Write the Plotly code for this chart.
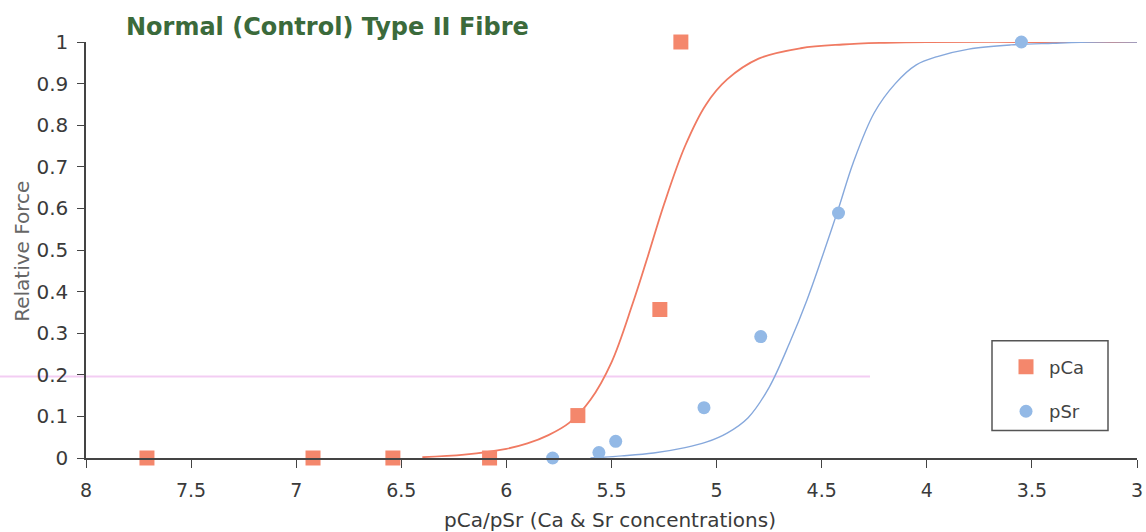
import plotly.graph_objects as go

# Measured data points
pca_x = [7.71, 6.92, 6.54, 6.08, 5.66, 5.27, 5.17]
pca_y = [0.0, 0.0, 0.0, 0.0, 0.102, 0.357, 1.0]
psr_x = [5.78, 5.56, 5.48, 5.06, 4.79, 4.42, 3.55]
psr_y = [0.0, 0.013, 0.04, 0.121, 0.292, 0.589, 1.0]

# Fitted curves
pca_fit_x = [6.40, 6.20, 6.00, 5.90, 5.80, 5.70, 5.60, 5.50, 5.40, 5.33, 5.25, 5.15,
             5.05, 4.95, 4.80, 4.60, 4.40, 4.20, 4.00, 3.50, 3.00]
pca_fit_y = [0.002, 0.008, 0.022, 0.035, 0.055, 0.085, 0.14, 0.23, 0.37, 0.48, 0.61, 0.75,
             0.85, 0.91, 0.96, 0.985, 0.994, 0.998, 1.0, 1.0, 1.0]
psr_fit_x = [5.60, 5.45, 5.30, 5.15, 5.05, 4.95, 4.85, 4.75, 4.65, 4.57, 4.50, 4.42,
             4.35, 4.25, 4.15, 4.05, 3.95, 3.80, 3.60, 3.40, 3.20, 3.00]
psr_fit_y = [0.0, 0.005, 0.012, 0.025, 0.038, 0.06, 0.097, 0.17, 0.28, 0.38, 0.48, 0.60,
             0.71, 0.83, 0.90, 0.945, 0.965, 0.983, 0.993, 0.997, 1.0, 1.0]

x_ticks = [8, 7.5, 7, 6.5, 6, 5.5, 5, 4.5, 4, 3.5, 3]
x_tick_text = ["8", "7.5", "7", "6.5", "6", "5.5", "5", "4.5", "4", "3.5", "3"]
y_ticks = [0, 0.1, 0.2, 0.3, 0.4, 0.5, 0.6, 0.7, 0.8, 0.9, 1]
y_tick_text = ["0", "0.1", "0.2", "0.3", "0.4", "0.5", "0.6", "0.7", "0.8", "0.9", "1"]

ORANGE = "#f4876c"
ORANGE_LINE = "#f07a62"
BLUE = "#93b9e6"
BLUE_LINE = "#86a8dc"
FONT = "DejaVu Sans, Verdana, sans-serif"
TXT = "#3a3a3a"

fig = go.Figure()
fig.add_trace(go.Scatter(x=pca_fit_x, y=pca_fit_y, mode="lines", line=dict(color=ORANGE_LINE, width=1.8, shape="spline"),
                         showlegend=False, hoverinfo="skip", cliponaxis=False))
fig.add_trace(go.Scatter(x=psr_fit_x, y=psr_fit_y, mode="lines", line=dict(color=BLUE_LINE, width=1.4, shape="spline"),
                         showlegend=False, hoverinfo="skip", cliponaxis=False))
fig.add_trace(go.Scatter(x=pca_x, y=pca_y, mode="markers", name="pCa", legendgroup="a",
                         marker=dict(symbol="square", size=15, color=ORANGE), cliponaxis=False))
fig.add_trace(go.Scatter(x=psr_x, y=psr_y, mode="markers", name="pSr", legendgroup="b",
                         marker=dict(symbol="circle", size=13, color=BLUE), cliponaxis=False))

W, H = 1146, 532
L, R, T, B = 86, 9, 42, 73.5
pw = W - L - R
ph = H - T - B

def px(xp):
    return (xp - L) / pw

def py(yp):
    return (H - B - yp) / ph

shapes = [
    # faint pink scan line
    dict(type="line", xref="paper", yref="paper", x0=px(0), x1=px(870), y0=py(377), y1=py(377),
         line=dict(color="#f3cdf3", width=2), layer="below"),
    # legend box
    dict(type="rect", xref="paper", yref="paper", x0=px(992), x1=px(1108), y0=py(341), y1=py(431),
         line=dict(color="#555555", width=1.5), fillcolor="rgba(0,0,0,0)"),
]

fig.update_layout(
    width=W, height=H,
    margin=dict(l=L, r=R, t=T, b=B),
    paper_bgcolor="white", plot_bgcolor="white",
    font=dict(family=FONT, color=TXT, size=18),
    showlegend=True,
    legend=dict(x=px(1003), y=py(349), xanchor="left", yanchor="top",
                bgcolor="rgba(0,0,0,0)", borderwidth=0, itemwidth=36,
                font=dict(size=18, color="#444444", family=FONT), tracegroupgap=18),
    shapes=shapes,
    annotations=[
        dict(text="<b>Normal (Control) Type II Fibre</b>", xref="paper", yref="paper",
             x=px(124), y=py(27), xanchor="left", yanchor="middle", showarrow=False,
             font=dict(size=24, color="#3b6a3b", family=FONT)),
        dict(text="pCa/pSr (Ca & Sr concentrations)", xref="paper", yref="paper",
             x=px(610), y=py(521), xanchor="center", yanchor="middle", showarrow=False,
             font=dict(size=20, color=TXT, family=FONT)),
        dict(text="Relative Force", xref="paper", yref="paper", textangle=-90,
             x=px(22), y=py(252), xanchor="center", yanchor="middle", showarrow=False,
             font=dict(size=20, color="#666666", family=FONT)),
    ],
    xaxis=dict(range=[8, 3], tickmode="array", tickvals=x_ticks, ticktext=x_tick_text, automargin=False,
               showgrid=False, zeroline=False, showline=True, linecolor="#444444", linewidth=1.5,
               ticks="outside", ticklen=8, tickwidth=1.3, tickcolor="#444444", ticklabelstandoff=6,
               tickfont=dict(size=19, color=TXT)),
    yaxis=dict(range=[0, 1], tickmode="array", tickvals=y_ticks, ticktext=y_tick_text, automargin=False,
               showgrid=False, zeroline=False, showline=True, linecolor="#444444", linewidth=1.5,
               ticks="outside", ticklen=7, tickwidth=1.3, tickcolor="#444444", ticklabelstandoff=5,
               tickfont=dict(size=20, color=TXT)),
)

fig.write_html("out.html")
